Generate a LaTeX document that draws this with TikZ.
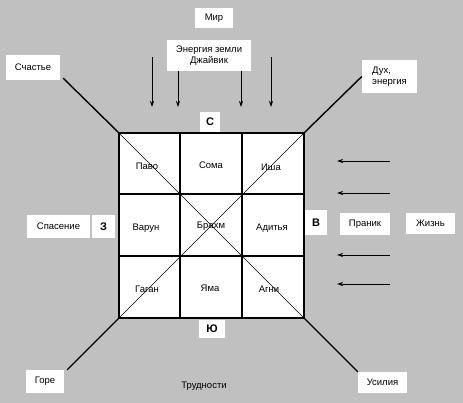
\documentclass[tikz,border=0pt]{standalone}
\usepackage{fontspec}
\setmainfont{Liberation Sans}
\usetikzlibrary{arrows.meta, positioning, calc}
\definecolor{panel}{HTML}{C0C0C0}

\begin{document}
\begin{tikzpicture}[x=1pt, y=-1pt, >={Stealth[length=6pt,width=4pt]},
  lbl/.style={fill=white, inner sep=0pt, font=\fontsize{9.5}{10.5}\selectfont},
  side/.style={lbl, font=\bfseries\fontsize{11}{12}\selectfont},
  cell/.style={font=\fontsize{9.5}{10.5}\selectfont}]
\fill[panel] (0,0) rectangle (463,403);
\useasboundingbox (0,0) rectangle (463,403);
% corners of the square
\coordinate (nw) at (119,133); \coordinate (ne) at (304,133);
\coordinate (sw) at (119,318); \coordinate (se) at (304,318);
\fill[white] (nw) rectangle (se);
% labels round the square
\node[lbl, minimum width=38pt, minimum height=20pt] (mir) at (214,18) {Мир};
\node[lbl, minimum width=84pt, minimum height=31pt, align=center] (energy) at (209,55.5) {Энергия земли\\Джайвик};
\node[lbl, minimum width=54pt, minimum height=25pt] (schast) at (33,67.5) {Счастье};
\node[lbl, minimum width=55pt, minimum height=33pt, align=left] (dukh) at (389.5,76.5) {Дух,\\энергия};
\node[side, minimum width=20pt, minimum height=20pt] (north) at (210,122) {С};
\node[lbl, minimum width=63pt, minimum height=23pt] (spas) at (58.5,226.5) {Спасение};
\node[side, minimum width=23pt, minimum height=23pt] (west) at (103.5,226.5) {З};
\node[side, minimum width=22pt, minimum height=25pt] (east) at (316,222.5) {В};
\node[lbl, minimum width=50pt, minimum height=22pt] (pranik) at (365,224) {Праник};
\node[lbl, minimum width=49pt, minimum height=21pt] (zhizn) at (430.5,223.5) {Жизнь};
\node[side, minimum width=26pt, minimum height=18pt] (south) at (212,329) {Ю};
\node[lbl, minimum width=38pt, minimum height=23pt] (gore) at (45,381.5) {Горе};
\node[cell] (trud) at (204,386) {Трудности};
\node[lbl, minimum width=49pt, minimum height=21pt] (usil) at (382.5,382.5) {Усилия};
% cells
\node[cell] (pavo) at (147,166) {Паво};
\node[cell] (soma) at (211,165) {Сома};
\node[cell] (isha) at (271,167) {Иша};
\node[cell] (varun) at (146,228) {Варун};
\node[cell] (brahm) at (211,226) {Брахм};
\node[cell] (aditya) at (272,228) {Адитья};
\node[cell] (gagan) at (147,289) {Гаган};
\node[cell] (yama) at (210,288) {Яма};
\node[cell] (agni) at (269,289) {Агни};
% grid and diagonals
\draw[line width=0.7pt] (nw) -- (se) (ne) -- (sw);
\draw[line width=1.8pt] (180,133) -- (180,318) (242,133) -- (242,318)
  (119,194) -- (304,194) (119,256) -- (304,256);
\draw[line width=2.2pt] (nw) rectangle (se);
% corner rays
\draw[line width=1.4pt] (nw) -- ($(schast.south east)+(3,-2)$);
\draw[line width=1.4pt] (ne) -- (dukh.west);
\draw[line width=1.4pt] (sw) -- ($(gore.north east)+(3,0)$);
\draw[line width=1.4pt] (se) -- (usil.north west);
% flows
\foreach \x/\y in {152/57, 178/71, 241/71, 271/57}
  \draw[->, line width=0.8pt] (\x,\y) coordinate (top\x) -- (\x,107);
\foreach \y in {161, 193, 255, 284}
  \draw[->, line width=0.8pt] (390,\y) coordinate (rt\y) -- (337,\y);
\end{tikzpicture}
\end{document}
